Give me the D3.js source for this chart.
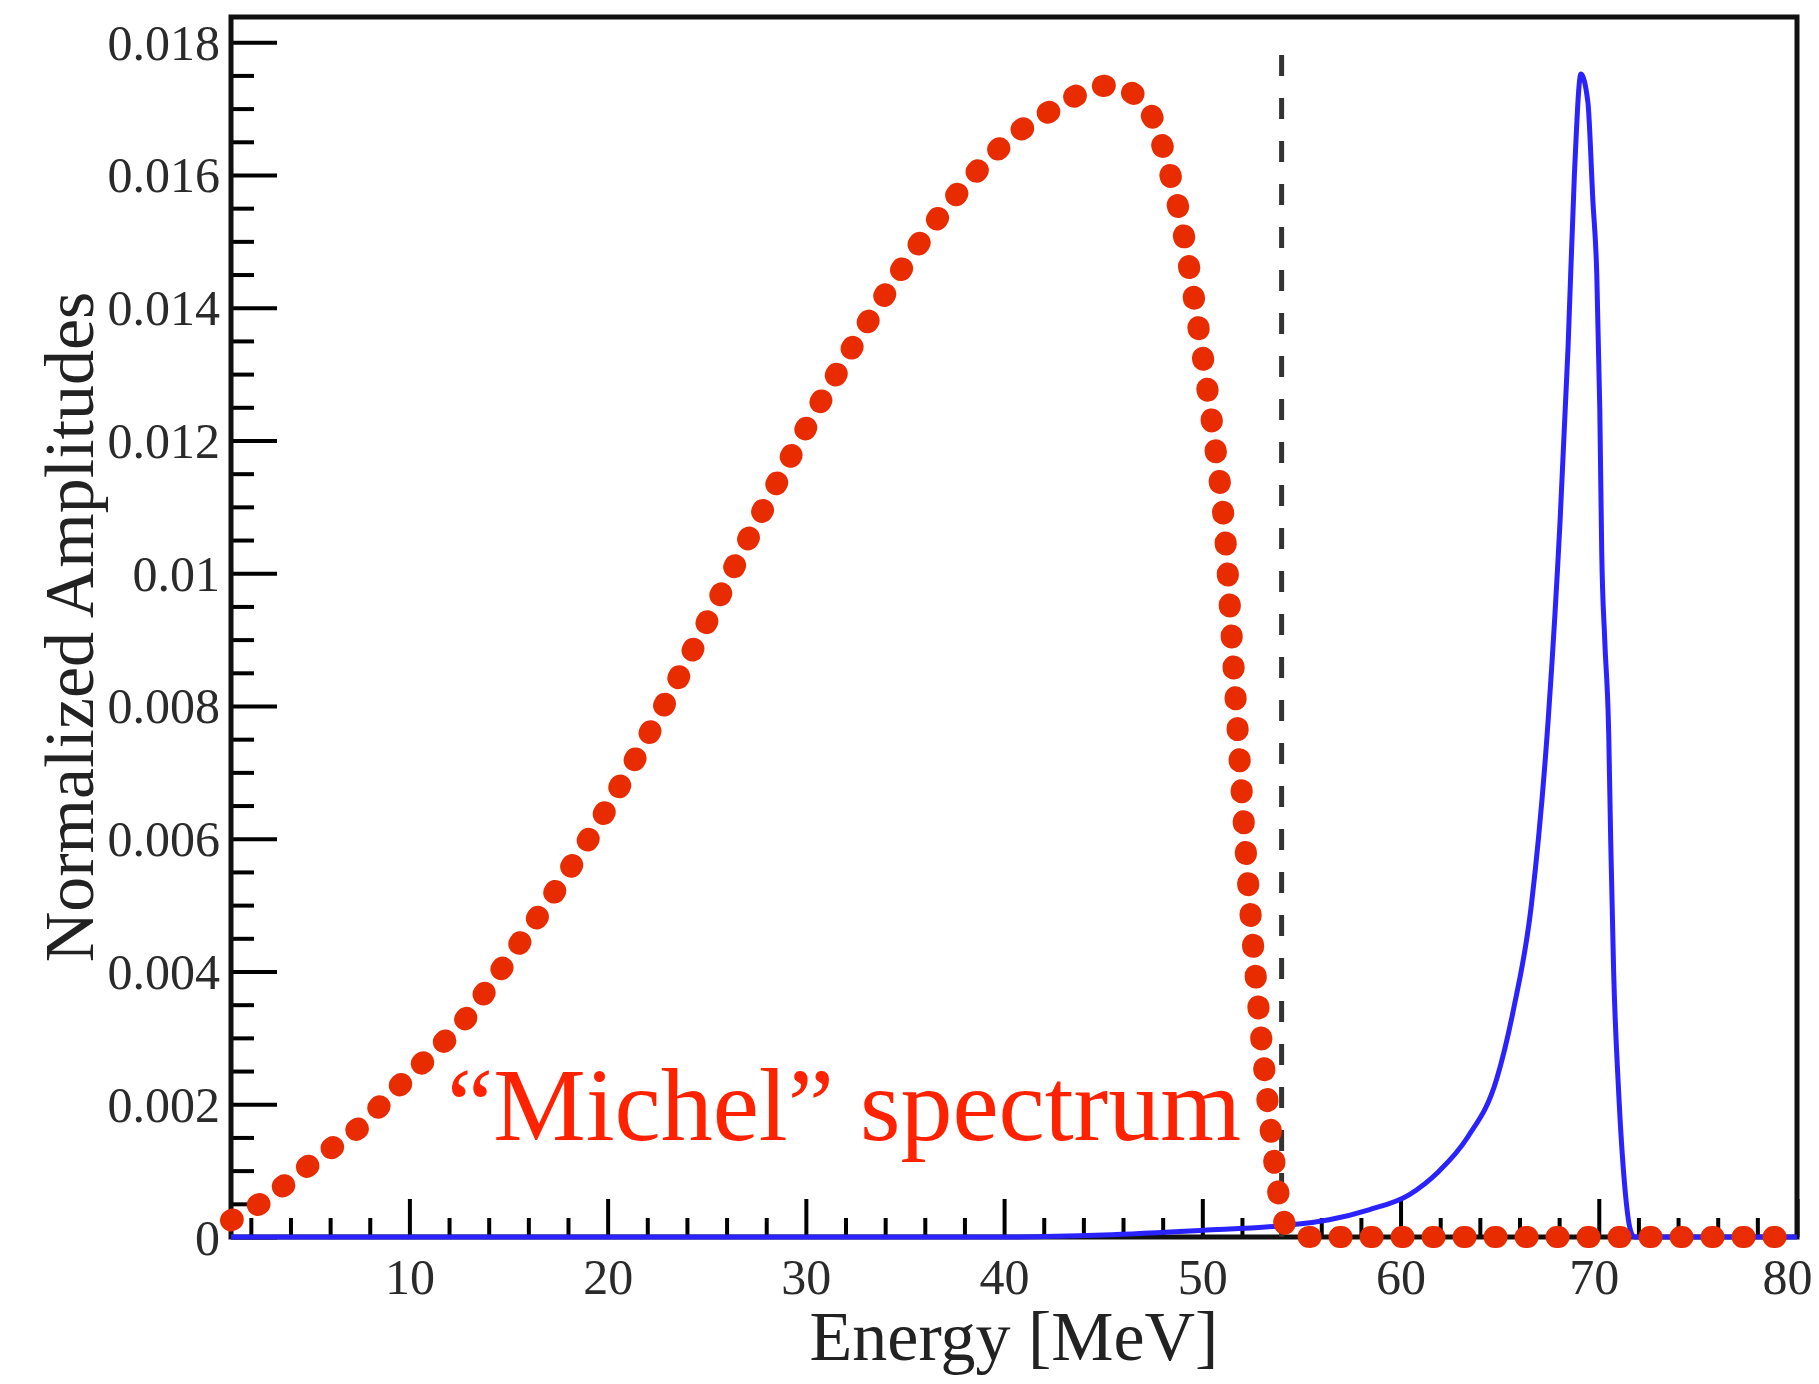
<!DOCTYPE html>
<html>
<head>
<meta charset="utf-8">
<script src="https://cdn.jsdelivr.net/npm/d3@7"></script>
<style>
	body { margin: 0; background: #fff; }
	text { font-family: "Liberation Serif", "Times New Roman", serif; }
</style>
</head>
<body>
<div id="chart"></div>
<script>
// Michel spectrum (red, dotted) and the signal peak (blue)
var michelE = [1.0, 2.6, 3.9, 5.1, 6.35, 7.5, 8.5, 9.83, 11.3, 12.76, 14.2, 15.69, 17.15, 18.61, 21.54, 24.46, 27.39, 30.31, 33.24, 36.16, 39.09, 40.5, 42.01, 43.3, 44.65, 45.6, 46.4, 47.57, 48.3, 49.03, 49.6, 50.21, 50.65, 51.09, 51.67, 52.26, 52.84, 53.42, 53.9, 54.31, 55.5, 80]
var michelA = [0.00025, 0.00053, 0.00083, 0.00112, 0.0014, 0.00166, 0.00197, 0.00238, 0.00281, 0.00326, 0.00385, 0.00448, 0.00512, 0.00579, 0.00728, 0.00894, 0.01069, 0.01235, 0.01384, 0.01515, 0.0162, 0.0166, 0.0169, 0.01714, 0.01733, 0.01735, 0.01725, 0.01681, 0.0161, 0.01515, 0.0141, 0.01287, 0.0119, 0.01078, 0.00815, 0.00553, 0.00343, 0.00169, 0.00055, 0.00011, 0, 0]

var signalE = [1, 40, 45, 50, 54, 56.4, 58.4, 60.45, 61.9, 63.4, 64.85, 65.7, 66.6, 67.45, 68.05, 68.45, 68.77, 69.1, 69.45, 69.7, 69.9, 70.05, 70.15, 70.3, 70.5, 70.6, 70.75, 71.0, 71.3, 71.6, 71.8, 80]
var signalA = [0, 0, 0.00003, 0.0001, 0.00017, 0.00026, 0.00041, 0.00064, 0.00098, 0.00151, 0.00238, 0.00343, 0.005, 0.0078, 0.0108, 0.0134, 0.016, 0.01752, 0.0171, 0.01563, 0.0145, 0.0125, 0.0103, 0.009, 0.0076, 0.006, 0.004, 0.0022, 0.0008, 0.0001, 0, 0]

var endpointE = 54
var endpointTop = 0.01785

var xTicks = [10, 20, 30, 40, 50, 60, 70, 80]
var yTicks = [0, 0.002, 0.004, 0.006, 0.008, 0.01, 0.012, 0.014, 0.016, 0.018]
var yTickLabels = ["0", "0.002", "0.004", "0.006", "0.008", "0.01", "0.012", "0.014", "0.016", "0.018"]

var xTitle = "Energy [MeV]"
var yTitle = "Normalized Amplitudes"
var note = "\u201cMichel\u201d spectrum"

var w = 1819
var h = 1384
var b = { left: 231, right: 1797, top: 17, bottom: 1237 }

var svg = d3.select("#chart").append("svg")
	.attr("width", w)
	.attr("height", h)

var x = d3.scaleLinear().domain([1, 80]).range([b.left, b.right])
var y = d3.scaleLinear().domain([0, 0.01838]).range([b.bottom, b.top])

var xMinor = d3.range(2, 81, 2).filter(d => d % 10 != 0)
var yMinor = d3.range(37).filter(i => i % 4 != 0).map(i => i * 0.0005)

// minor ticks first, without labels
svg.append("g")
	.attr("class", "minor")
	.attr("transform", "translate(0," + b.bottom + ")")
	.call(d3.axisBottom(x).tickValues(xMinor).tickSize(-19).tickSizeOuter(0).tickFormat(""))
svg.append("g")
	.attr("class", "minor")
	.attr("transform", "translate(" + b.left + ",0)")
	.call(d3.axisLeft(y).tickValues(yMinor).tickSize(-23).tickSizeOuter(0).tickFormat(""))
svg.selectAll(".minor text").remove()

var gx = svg.append("g")
	.attr("transform", "translate(0," + b.bottom + ")")
	.call(d3.axisBottom(x).tickValues(xTicks).tickSize(-38).tickSizeOuter(0).tickFormat(d => d))
gx.selectAll("text")
	.attr("y", 57)
	.attr("dy", null)
	.attr("dx", d => d == 80 ? -10 : (d == 70 ? -5 : 0))

var gy = svg.append("g")
	.attr("transform", "translate(" + b.left + ",0)")
	.call(d3.axisLeft(y).tickValues(yTicks).tickSize(-46).tickSizeOuter(0).tickFormat((d, i) => yTickLabels[i]))
gy.selectAll("text")
	.attr("x", -11)
	.attr("dy", "0.34em")

svg.selectAll(".domain").remove()
svg.selectAll(".tick line")
	.attr("stroke", "#000")
	.attr("stroke-width", 4)
svg.selectAll(".tick text")
	.attr("fill", "#2a2a2a")
	.style("font-size", "50px")
	.style("font-family", "Liberation Serif, serif")

// frame
svg.append("rect")
	.attr("x", b.left)
	.attr("y", b.top)
	.attr("width", b.right - b.left)
	.attr("height", b.bottom - b.top)
	.attr("fill", "none")
	.attr("stroke", "#111")
	.attr("stroke-width", 5)

// endpoint marker
svg.append("line")
	.attr("x1", x(endpointE))
	.attr("x2", x(endpointE))
	.attr("y1", y(0))
	.attr("y2", y(endpointTop))
	.attr("stroke", "#333")
	.attr("stroke-width", 5)
	.attr("stroke-dasharray", "21 22")

var line = d3.line()
	.x(d => x(d[0]))
	.y(d => y(d[1]))
	.curve(d3.curveMonotoneX)

svg.append("path")
	.datum(d3.zip(signalE, signalA))
	.attr("d", line)
	.attr("fill", "none")
	.attr("stroke", "#2a22ff")
	.attr("stroke-width", 5)

svg.append("path")
	.datum(d3.zip(michelE, michelA))
	.attr("d", line)
	.attr("fill", "none")
	.attr("stroke", "#e82c00")
	.attr("stroke-width", 22)
	.attr("stroke-linecap", "round")
	.attr("stroke-dasharray", "2 29")

svg.append("text")
	.attr("x", 447)
	.attr("y", 1140)
	.attr("fill", "#ff2200")
	.style("font-size", "104px")
	.text(note)

svg.append("text")
	.attr("x", (b.left + b.right) / 2)
	.attr("y", 1360)
	.attr("text-anchor", "middle")
	.attr("fill", "#222")
	.style("font-size", "70px")
	.text(xTitle)

svg.append("text")
	.attr("transform", "translate(93," + (b.top + b.bottom) / 2 + ") rotate(-90)")
	.attr("text-anchor", "middle")
	.attr("fill", "#222")
	.style("font-size", "70px")
	.text(yTitle)
</script>
</body>
</html>
